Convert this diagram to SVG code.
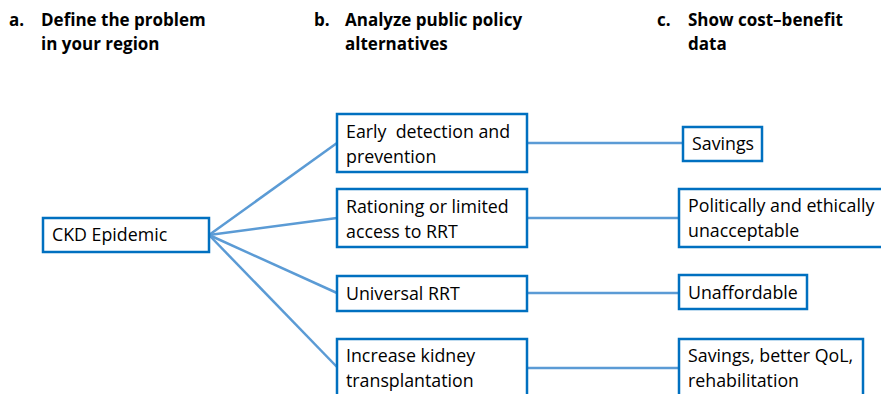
<svg xmlns="http://www.w3.org/2000/svg" width="881" height="394" viewBox="0 0 881 394">
<style>
.box{fill:#fff;stroke:#0070C0;stroke-width:2.5}
.t{font-family:"Open Sans","Liberation Sans",Arial,sans-serif;font-size:17.8px;fill:#000}
.h{font-family:"Open Sans","Liberation Sans",Arial,sans-serif;font-size:17px;font-weight:bold;fill:#000}
.c{stroke:#5B9BD5;stroke-width:2.5;fill:none}
</style>
<rect width="881" height="394" fill="#fff"/>
<g id="headers">
<text class="h" x="9" y="26">a.</text>
<text class="h" x="41" y="26">Define the problem</text>
<text class="h" x="41" y="50">in your region</text>
<text class="h" x="314" y="26">b.</text>
<text class="h" x="345" y="26">Analyze public policy</text>
<text class="h" x="345" y="50">alternatives</text>
<text class="h" x="657" y="26">c.</text>
<text class="h" x="688" y="26">Show cost–benefit</text>
<text class="h" x="688" y="50">data</text>
</g>
<g id="connectors">
<line class="c" x1="209" y1="235" x2="337" y2="143"/>
<line class="c" x1="209" y1="235" x2="337" y2="218"/>
<line class="c" x1="209" y1="235" x2="337" y2="293"/>
<line class="c" x1="209" y1="235" x2="337" y2="367"/>
<line class="c" x1="527" y1="143" x2="683" y2="143"/>
<line class="c" x1="527" y1="218" x2="679" y2="218"/>
<line class="c" x1="527" y1="293" x2="679" y2="293"/>
<line class="c" x1="527" y1="368" x2="679" y2="368"/>
</g>
<g id="ckd">
<rect class="box" x="43" y="218" width="166" height="34"/>
<text class="t" x="52" y="241">CKD Epidemic</text>
</g>
<g id="early">
<rect class="box" x="337" y="114" width="190" height="58"/>
<text class="t" x="346" y="138" xml:space="preserve">Early  detection and</text>
<text class="t" x="346" y="163">prevention</text>
</g>
<g id="rationing">
<rect class="box" x="337" y="189" width="190" height="58"/>
<text class="t" x="346" y="213">Rationing or limited</text>
<text class="t" x="346" y="238">access to RRT</text>
</g>
<g id="universal">
<rect class="box" x="337" y="276" width="190" height="35"/>
<text class="t" x="346" y="300">Universal RRT</text>
</g>
<g id="transplant">
<rect class="box" x="337" y="339" width="190" height="60"/>
<text class="t" x="346" y="362">Increase kidney</text>
<text class="t" x="346" y="387">transplantation</text>
</g>
<g id="savings">
<rect class="box" x="683" y="127" width="79" height="34"/>
<text class="t" x="692" y="150">Savings</text>
</g>
<g id="political">
<rect class="box" x="679" y="189" width="210" height="58"/>
<text class="t" x="688" y="212">Politically and ethically</text>
<text class="t" x="688" y="237">unacceptable</text>
</g>
<g id="unaffordable">
<rect class="box" x="679" y="275" width="128" height="34"/>
<text class="t" x="688" y="299">Unaffordable</text>
</g>
<g id="qol">
<rect class="box" x="679" y="339" width="184" height="60"/>
<text class="t" x="688" y="362">Savings, better QoL,</text>
<text class="t" x="688" y="387">rehabilitation</text>
</g>
</svg>
